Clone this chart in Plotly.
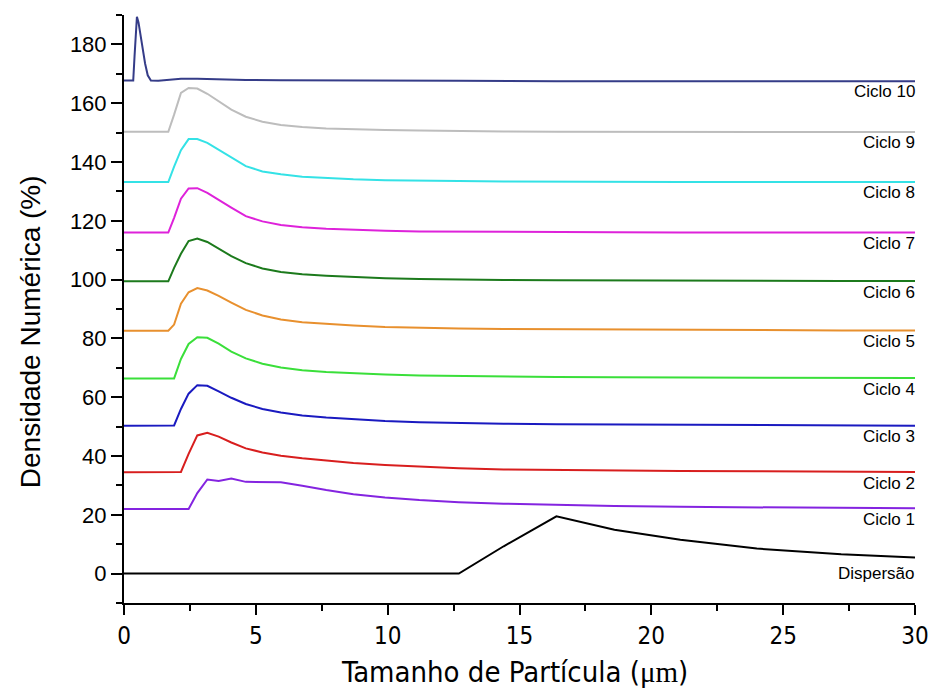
import plotly.graph_objects as go

# ---------------- data (offsets included) ----------------
X_DISP = [0.0, 12.7, 14.4, 16.4, 18.6, 21.1, 24.0, 27.2, 30.0]
Y_DISP = [0.0, 0.0, 9.3, 19.5, 14.9, 11.5, 8.5, 6.6, 5.5]

X_C1 = [0, 2.45, 2.78, 3.16, 3.59, 4.07, 4.62, 5.25, 5.95, 6.76, 7.67, 8.7, 9.9, 11.2, 12.7, 14.4, 16.4, 18.6, 21.1, 24.0, 27.2, 30.0]
Y_C1 = [22.0, 22.0, 27.4, 32.0, 31.5, 32.3, 31.2, 31.1, 31.1, 29.9, 28.4, 27.0, 25.9, 25.0, 24.3, 23.8, 23.3, 23.0, 22.7, 22.5, 22.3, 22.2]

X_C2 = [0, 2.16, 2.45, 2.78, 3.16, 3.59, 4.07, 4.62, 5.25, 5.95, 6.76, 7.67, 8.7, 9.9, 11.2, 12.7, 14.4, 16.4, 18.6, 21.1, 24.0, 27.2, 30.0]
Y_C2 = [34.5, 34.6, 40.7, 47.0, 47.9, 46.6, 44.6, 42.6, 41.2, 40.1, 39.2, 38.4, 37.6, 36.9, 36.3, 35.8, 35.4, 35.2, 35.0, 34.9, 34.8, 34.7, 34.6]

X_C3 = [0, 1.9, 2.16, 2.45, 2.78, 3.16, 3.59, 4.07, 4.62, 5.25, 5.95, 6.76, 7.67, 8.7, 9.9, 11.2, 12.7, 14.4, 16.4, 18.6, 21.1, 24.0, 27.2, 30.0]
Y_C3 = [50.3, 50.4, 56.0, 61.2, 64.1, 63.9, 62.0, 59.8, 57.7, 56.0, 54.8, 53.8, 53.1, 52.5, 51.9, 51.5, 51.2, 51.0, 50.8, 50.7, 50.6, 50.5, 50.4, 50.3]

X_C4 = [0, 1.9, 2.16, 2.45, 2.78, 3.16, 3.59, 4.07, 4.62, 5.25, 5.95, 6.76, 7.67, 8.7, 9.9, 11.2, 12.7, 14.4, 16.4, 18.6, 21.1, 24.0, 27.2, 30.0]
Y_C4 = [66.4, 66.4, 73.0, 78.1, 80.4, 80.2, 78.2, 75.5, 73.2, 71.4, 70.1, 69.2, 68.6, 68.1, 67.7, 67.4, 67.2, 67.0, 66.9, 66.8, 66.7, 66.6, 66.5, 66.5]

X_C5 = [0, 1.68, 1.9, 2.16, 2.45, 2.78, 3.16, 3.59, 4.07, 4.62, 5.25, 5.95, 6.76, 7.67, 8.7, 9.9, 11.2, 12.7, 14.4, 16.4, 18.6, 21.1, 24.0, 27.2, 30.0]
Y_C5 = [82.6, 82.6, 84.7, 91.8, 95.7, 97.1, 96.3, 94.5, 92.2, 89.7, 87.8, 86.4, 85.5, 84.9, 84.4, 83.9, 83.6, 83.4, 83.2, 83.1, 83.0, 82.9, 82.8, 82.7, 82.7]

X_C6 = [0, 1.68, 1.9, 2.16, 2.45, 2.78, 3.16, 3.59, 4.07, 4.62, 5.25, 5.95, 6.76, 7.67, 8.7, 9.9, 11.2, 12.7, 14.4, 16.4, 18.6, 21.1, 24.0, 27.2, 30.0]
Y_C6 = [99.4, 99.4, 104.0, 108.8, 113.1, 114.0, 112.8, 110.6, 108.0, 105.6, 103.8, 102.6, 101.8, 101.3, 100.9, 100.5, 100.2, 100.0, 99.9, 99.8, 99.7, 99.6, 99.6, 99.5, 99.5]

X_C7 = [0, 1.68, 1.9, 2.16, 2.45, 2.78, 3.16, 3.59, 4.07, 4.62, 5.25, 5.95, 6.76, 7.67, 8.7, 9.9, 11.2, 12.7, 14.4, 16.4, 18.6, 21.1, 24.0, 27.2, 30.0]
Y_C7 = [116.0, 116.0, 121.0, 127.5, 131.0, 131.1, 129.5, 127.0, 124.5, 121.6, 119.8, 118.6, 117.8, 117.3, 116.9, 116.6, 116.4, 116.3, 116.2, 116.1, 116.1, 116.0, 116.0, 116.0, 116.0]

X_C8 = [0, 1.68, 1.9, 2.16, 2.45, 2.78, 3.16, 3.59, 4.07, 4.62, 5.25, 5.95, 6.76, 7.67, 8.7, 9.9, 11.2, 12.7, 14.4, 16.4, 18.6, 21.1, 24.0, 27.2, 30.0]
Y_C8 = [133.2, 133.2, 138.4, 144.0, 147.8, 147.8, 146.5, 144.2, 141.6, 138.6, 136.8, 135.8, 135.0, 134.5, 134.1, 133.8, 133.6, 133.5, 133.4, 133.3, 133.3, 133.2, 133.2, 133.2, 133.2]

X_C9 = [0, 1.68, 1.9, 2.16, 2.45, 2.78, 3.16, 3.59, 4.07, 4.62, 5.25, 5.95, 6.76, 7.67, 8.7, 9.9, 11.2, 12.7, 14.4, 16.4, 18.6, 21.1, 24.0, 27.2, 30.0]
Y_C9 = [150.3, 150.3, 156.1, 163.5, 165.2, 165.0, 163.2, 160.7, 157.8, 155.4, 153.7, 152.6, 151.9, 151.4, 151.1, 150.9, 150.7, 150.5, 150.4, 150.3, 150.3, 150.2, 150.2, 150.2, 150.2]

X_C10 = [0, 0.30, 0.35, 0.40, 0.45, 0.49, 0.55, 0.62, 0.70, 0.80, 0.90, 1.02, 1.30, 1.68, 2.16, 2.78, 3.59, 4.62, 5.95, 7.67, 9.9, 12.7, 16.4, 21.1, 27.2, 30.0]
Y_C10 = [167.7, 167.7, 167.7, 176.0, 184.5, 189.4, 187.5, 183.8, 178.5, 173.5, 169.5, 167.7, 167.6, 168.0, 168.3, 168.3, 168.1, 167.9, 167.8, 167.7, 167.6, 167.6, 167.5, 167.5, 167.5, 167.5]

SERIES_NAMES = ["Dispersão", "Ciclo 1", "Ciclo 2", "Ciclo 3", "Ciclo 4", "Ciclo 5",
                "Ciclo 6", "Ciclo 7", "Ciclo 8", "Ciclo 9", "Ciclo 10"]
SERIES_X = [X_DISP, X_C1, X_C2, X_C3, X_C4, X_C5, X_C6, X_C7, X_C8, X_C9, X_C10]
SERIES_Y = [Y_DISP, Y_C1, Y_C2, Y_C3, Y_C4, Y_C5, Y_C6, Y_C7, Y_C8, Y_C9, Y_C10]
COLORS = ["#000000", "#8424E0", "#D81E1E", "#1A1AC0", "#3ADF3A", "#E8902E",
          "#1C7A1C", "#DE22DA", "#34E2E6", "#BDBDBD", "#353C88"]

X_TICKS = [0, 5, 10, 15, 20, 25, 30]
Y_TICKS = [0, 20, 40, 60, 80, 100, 120, 140, 160, 180]

X_TITLE = 'Tamanho de Partícula (<span style="font-family:Liberation Serif, Times New Roman, serif">μm</span>)'
Y_TITLE = "Densidade Numérica (%)"

# ---------------- figure ----------------
SANS = "Liberation Sans, Arial, sans-serif"
NARROW = "Liberation Sans Narrow, Arial Narrow, DejaVu Sans Condensed, sans-serif"

fig = go.Figure()
for name, xs, ys, col in zip(SERIES_NAMES, SERIES_X, SERIES_Y, COLORS):
    fig.add_trace(go.Scatter(x=xs, y=ys, mode="lines", name=name,
                             line=dict(color=col, width=2), showlegend=False))
    fig.add_annotation(x=30, y=ys[0], xref="x", yref="y", text=name, showarrow=False,
                       xanchor="right", yanchor="middle", xshift=2,
                       yshift=(0 if name == "Dispersão" else -11),
                       font=dict(family=SANS, size=17, color="black"))

# axis titles as annotations (placed like the reference)
fig.add_annotation(x=0.494, y=-0.118, xref="paper", yref="paper", text=X_TITLE,
                   showarrow=False, xanchor="center", yanchor="middle",
                   font=dict(family=NARROW, size=29, color="black"))
fig.add_annotation(x=-0.119, y=0.462, xref="paper", yref="paper", text=Y_TITLE,
                   showarrow=False, xanchor="center", yanchor="middle", textangle=-90,
                   font=dict(family=SANS, size=28, color="black"))

fig.update_layout(
    width=930, height=693,
    margin=dict(l=124, r=15, t=15, b=90),
    paper_bgcolor="white", plot_bgcolor="white",
    font=dict(family=SANS, color="black"),
    xaxis=dict(range=[0, 30], tickvals=X_TICKS, ticktext=[str(v) for v in X_TICKS],
               ticks="outside", ticklen=10, tickwidth=2, tickcolor="black",
               minor=dict(dtick=2.5, tick0=0, ticks="outside", ticklen=6, tickwidth=2, tickcolor="black"),
               showline=True, linewidth=2, linecolor="black", showgrid=False, zeroline=False,
               tickfont=dict(family=NARROW, size=24), automargin=False),
    yaxis=dict(range=[-10, 190], tickvals=Y_TICKS, ticktext=[str(v) for v in Y_TICKS],
               ticks="outside", ticklen=11, tickwidth=2, tickcolor="black",
               minor=dict(dtick=10, tick0=0, ticks="outside", ticklen=6, tickwidth=2, tickcolor="black"),
               showline=True, linewidth=2, linecolor="black", showgrid=False, zeroline=False,
               tickfont=dict(size=22), automargin=False),
)

fig.write_html("out.html")
